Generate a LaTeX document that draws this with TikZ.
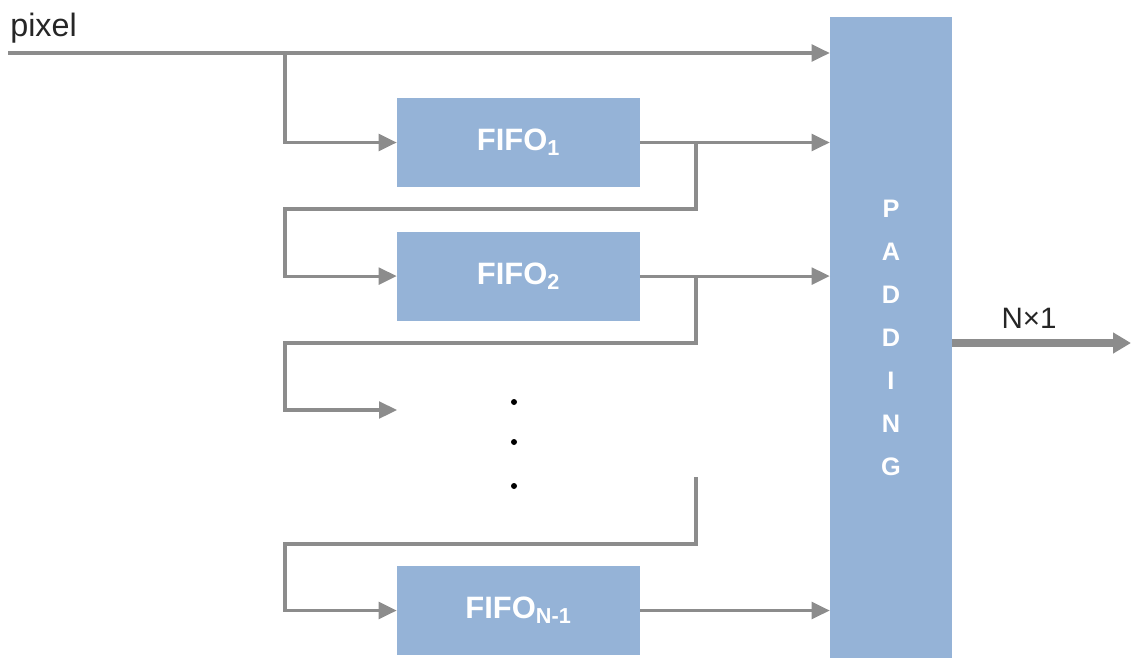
\documentclass[tikz,border=0pt]{standalone}
\usepackage{fontspec}
\setmainfont{Liberation Sans}
\usetikzlibrary{arrows.meta}
\usetikzlibrary{positioning}

\definecolor{boxblue}{RGB}{149,179,215}
\definecolor{wiregray}{RGB}{140,140,140}

\begin{document}
\begin{tikzpicture}[x=0.025cm, y=-0.025cm,
    fifo/.style={rectangle, fill=boxblue, text=white, inner sep=0pt, minimum width=6.075cm, minimum height=2.225cm, font=\fontsize{22}{26}\selectfont\bfseries},
    padbox/.style={rectangle, fill=boxblue, text=white, inner sep=0pt, minimum width=3.05cm, minimum height=16.025cm, align=center, font=\fontsize{18}{30.6}\selectfont\bfseries},
    wire/.style={draw=wiregray, line width=2.2pt},
    flow/.style={wire, -{Triangle[length=0.45cm, width=0.42cm]}},
    bigflow/.style={draw=wiregray, line width=5pt, -{Triangle[length=0.45cm, width=0.5cm]}}]
        \useasboundingbox (0,0) rectangle (1131,658);

        % Draw the FIFO blocks and the padding block
        \node[fifo] (f1) at (518.5,142.5) {FIFO\textsubscript{1}};
        \node[fifo, below=1.1cm of f1] (f2) {FIFO\textsubscript{2}};
        \node[fifo] (fn) at (518.5,610.5) {FIFO\textsubscript{N-1}};
        \node[padbox] (pad) at (891,337.5) {P\\A\\D\\D\\I\\N\\G};

        % Input pixel stream
        \node[anchor=base west, inner sep=0pt, font=\fontsize{23}{26}\selectfont, text=black!85] (pix) at (10,36) {pixel};
        \coordinate (in) at (8,53);
        \coordinate (s0) at (285,53);
        \draw[flow] (in) -- (in -| pad.west);
        \draw[flow] (s0) |- (f1.west);

        % Each FIFO feeds the padding block
        \foreach \f in {f1,f2,fn}
        {
          \draw[flow] (\f.east) -- (\f.east -| pad.west);
        }

        % Feedback from one FIFO into the next
        \coordinate (t1) at (696,143);
        \coordinate (b1) at (285,209);
        \coordinate (t2) at (696,276);
        \coordinate (b2) at (285,343);
        \coordinate (gap) at (397,410);
        \coordinate (t3) at (696,477);
        \coordinate (b3) at (285,544);
        \draw[flow] (t1) |- (b1) |- (f2.west);
        \draw[flow] (t2) |- (b2) |- (gap);
        \draw[flow] (t3) |- (b3) |- (fn.west);

        % Vertical dots
        \foreach \y [count=\i] in {402,442,486}
        {
          \node[circle, fill=black, inner sep=0pt, minimum size=0.15cm] (d\i) at (514,\y) {};
        }

        % Output
        \coordinate (out) at (1131,343);
        \draw[bigflow] (pad.east |- out) -- (out);
        \node[font=\fontsize{21}{24}\selectfont, text=black!85] (nx1) at (1029,318) {N×1};
      \end{tikzpicture}
\end{document}
